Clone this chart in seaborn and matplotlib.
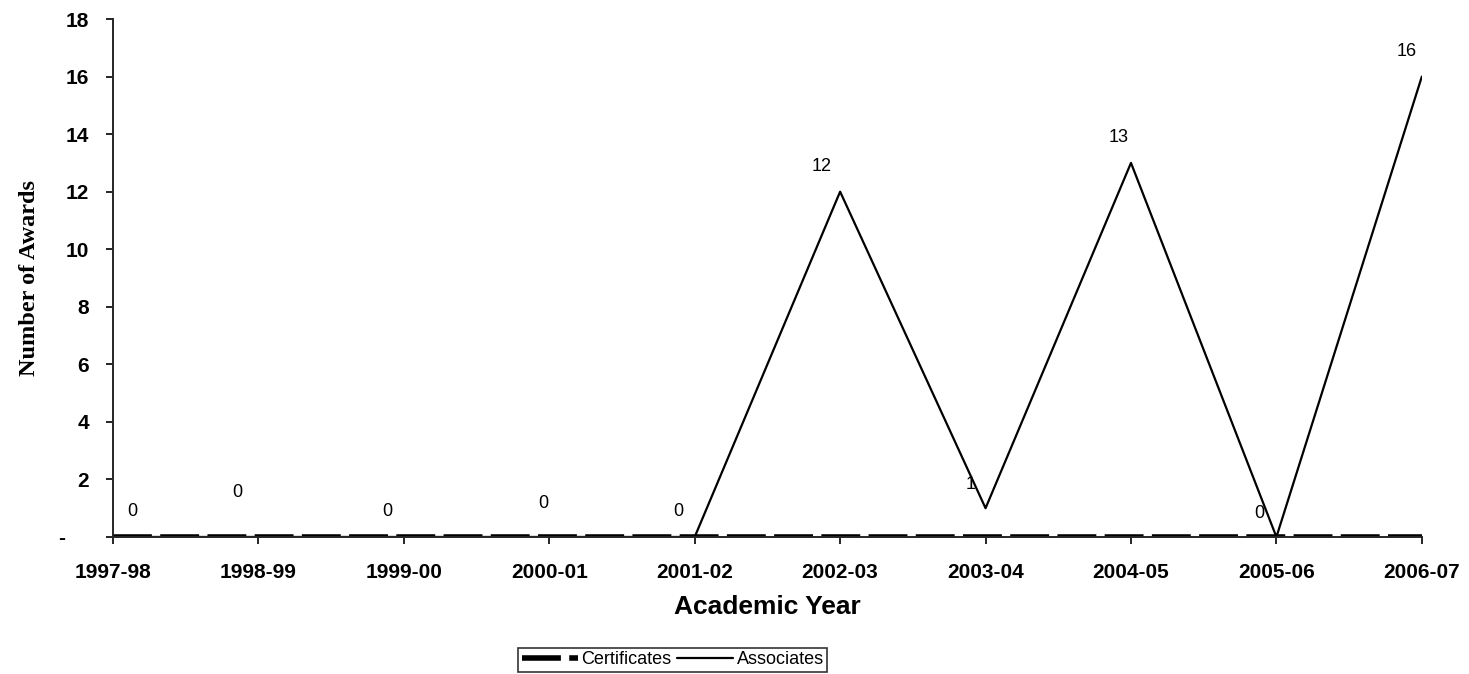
import pandas as pd
import seaborn as sns
import matplotlib.pyplot as plt

# Chart data
years = ['1997-98', '1998-99', '1999-00', '2000-01', '2001-02',
         '2002-03', '2003-04', '2004-05', '2005-06', '2006-07']
certificates = [0, 0, 0, 0, 0, 0, 0, 0, 0, 0]
associates = [0, 0, 0, 0, 0, 12, 1, 13, 0, 16]
y_ticks = [0, 2, 4, 6, 8, 10, 12, 14, 16, 18]
y_tick_labels = ['-    ', '2', '4', '6', '8', '10', '12', '14', '16', '18']

# label offsets (points) for the Excel-style data labels
label_offsets = [(14, 18), (-15, 32), (-12, 18), (-4, 24), (-12, 18),
                 (-13, 18), (-11, 17), (-9, 18), (-12, 17), (-11, 18)]

sns.set_style('ticks')
plt.rcParams['font.family'] = ['Liberation Sans', 'DejaVu Sans']
plt.rcParams['text.color'] = 'black'
plt.rcParams['axes.labelcolor'] = 'black'

df = pd.DataFrame({'year': years, 'pos': range(len(years)),
                   'Certificates': certificates, 'Associates': associates})

fig = plt.figure(figsize=(14.69, 6.74), dpi=100)
ax = fig.add_axes([0.0769, 0.2033, 0.891, 0.7685])

sns.lineplot(data=df, x='pos', y='Certificates', ax=ax, color='black',
             linewidth=4, linestyle=(0, (7, 1.5)), label='Certificates')
sns.lineplot(data=df, x='pos', y='Associates', ax=ax, color='black',
             linewidth=1.6, label='Associates')

# data labels for Associates
for i, v in enumerate(associates):
    dx, dy = label_offsets[i]
    ax.annotate(str(v), (i, v), xytext=(dx, dy), textcoords='offset points',
                ha='center', va='center', fontsize=13, color='black')

ax.set_xlim(0, len(years) - 1)
ax.set_ylim(0, 18)
ax.set_xticks(range(len(years)))
ax.set_xticklabels(years, fontsize=15, fontweight='bold')
ax.set_yticks(y_ticks)
ax.set_yticklabels(y_tick_labels, fontsize=15, fontweight='bold')
ax.tick_params(axis='both', direction='out', length=5, width=1.2, colors='black')
ax.tick_params(axis='x', pad=14)
ax.tick_params(axis='y', pad=12)

sns.despine(ax=ax)
ax.spines['left'].set_linewidth(1.4)
ax.spines['bottom'].set_linewidth(1.4)

ax.set_xlabel('Academic Year', fontsize=19, fontweight='bold', labelpad=9)
ax.set_ylabel('Number of Awards', fontsize=17.5, fontweight='bold',
              family=['Liberation Serif', 'DejaVu Serif'], labelpad=14)

ax.get_legend().remove()
handles, labels = ax.get_legend_handles_labels()
leg = fig.legend(handles, labels, loc='center', bbox_to_anchor=(0.458, 0.021),
                 ncol=2, frameon=True, fancybox=False, edgecolor='black',
                 fontsize=13, handlelength=3.1, borderpad=0.2,
                 columnspacing=0.3, handletextpad=0.2)
leg.get_frame().set_linewidth(1.2)

fig.savefig('out.png', dpi=100)
